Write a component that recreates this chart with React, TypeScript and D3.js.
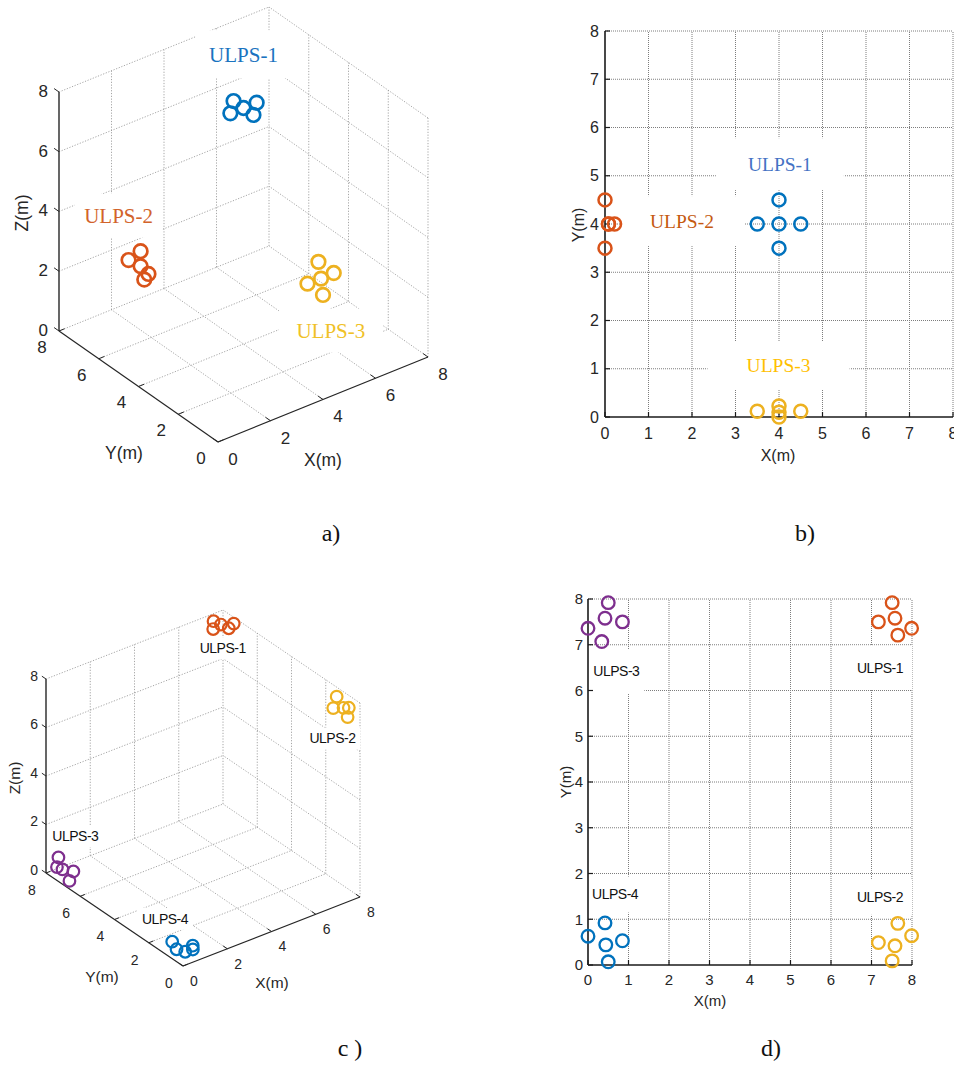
import React from "react";
import * as d3 from "d3";

// ---- shared ticks ----
const ticks3d = [0, 2, 4, 6, 8];
const ticks2d = [0, 1, 2, 3, 4, 5, 6, 7, 8];
const names3 = ["ULPS-1", "ULPS-2", "ULPS-3"];
const names4 = ["ULPS-1", "ULPS-2", "ULPS-3", "ULPS-4"];

// ---- a) / b): three ULPS (x, y, z in m) ----
const a1X = [4, 3.5, 4, 4.5, 4];
const a1Y = [4.5, 4, 4, 4, 3.5];
const a1Z = [7.9, 7.9, 7.9, 7.9, 7.9];
const a2X = [0, 0, 0.08, 0.22, 0.08];
const a2Y = [4.5, 3.5, 4, 4, 4];
const a2Z = [4, 4, 4.5, 3.5, 4];
const a3X = [3.5, 4.5, 4, 4, 4];
const a3Y = [0.12, 0.12, 0.23, 0, 0.1];
const a3Z = [4, 4, 4.5, 3.5, 4];

// ---- c) / d): four ULPS ----
const c1X = [7.51, 7.17, 7.58, 7.65, 7.99];
const c1Y = [7.92, 7.5, 7.58, 7.21, 7.36];
const c1Z = [7.75, 7.75, 7.75, 7.75, 7.75];
const c2X = [7.65, 7.99, 7.17, 7.58, 7.51];
const c2Y = [0.91, 0.64, 0.49, 0.42, 0.09];
const c2Z = [7.95, 7.5, 7.85, 7.75, 7.55];
const c3X = [0.5, 0.42, 0.85, 0, 0.34];
const c3Y = [7.92, 7.58, 7.5, 7.36, 7.07];
const c3Z = [0.5, 0.2, 0, 0.55, 0];
const c4X = [0.42, 0, 0.85, 0.44, 0.5];
const c4Y = [0.92, 0.63, 0.53, 0.44, 0.07];
const c4Z = [0.1, 0.7, 0.28, 0.22, 0.47];

const BLUE = "#0072BD";
const ORANGE = "#D95319";
const YELLOW = "#EDB120";
const PURPLE = "#7E2F8E";

const SANS = "'Liberation Sans', Arial, Helvetica, sans-serif";
const SERIF = "'Liberation Serif', 'Times New Roman', serif";

type Series = { xs: number[]; ys: number[]; zs?: number[]; color: string };
type Label = { text: string; at: number[]; color: string; hw: number; hh: number };
type Pt = [number, number];

function Plot3D(p: {
  origin: Pt;
  xEnd: Pt;
  yEnd: Pt;
  zLen: number;
  series: Series[];
  labels: Label[];
  labelFont: string;
  labelSize: number;
  labelSpacing?: number;
  tickSize: number;
  axisSize: number;
  r: number;
  sw: number;
  tickLen: number;
  xTickOff: Pt;
  yTickOff: Pt;
  zTickOff: Pt;
  xLabelAt: Pt;
  yLabelAt: Pt;
  zLabelAt: Pt;
}) {
  const dom = [0, 8];
  const xPx = d3.scaleLinear().domain(dom).range([0, p.xEnd[0] - p.origin[0]]);
  const xPy = d3.scaleLinear().domain(dom).range([0, p.xEnd[1] - p.origin[1]]);
  const yPx = d3.scaleLinear().domain(dom).range([0, p.yEnd[0] - p.origin[0]]);
  const yPy = d3.scaleLinear().domain(dom).range([0, p.yEnd[1] - p.origin[1]]);
  const zPy = d3.scaleLinear().domain(dom).range([0, -p.zLen]);
  const P = (x: number, y: number, z: number): Pt => [
    p.origin[0] + xPx(x) + yPx(y),
    p.origin[1] + xPy(x) + yPy(y) + zPy(z),
  ];
  const line = d3.line();
  const seg = (a: number[], b: number[]) =>
    line([P(a[0], a[1], a[2]), P(b[0], b[1], b[2])]) ?? "";

  // unit directions in pixel space
  const norm = (v: Pt): Pt => {
    const l = Math.hypot(v[0], v[1]);
    return [v[0] / l, v[1] / l];
  };
  const ux = norm([P(1, 0, 0)[0] - P(0, 0, 0)[0], P(1, 0, 0)[1] - P(0, 0, 0)[1]]);
  const uy = norm([P(0, 1, 0)[0] - P(0, 0, 0)[0], P(0, 1, 0)[1] - P(0, 0, 0)[1]]);

  const grid: string[] = [];
  ticks3d.forEach((t) => {
    if (t > 0) {
      grid.push(seg([t, 0, 0], [t, 8, 0]));
      grid.push(seg([0, t, 0], [8, t, 0]));
      grid.push(seg([t, 8, 0], [t, 8, 8]));
      grid.push(seg([0, 8, t], [8, 8, t]));
      grid.push(seg([8, 0, t], [8, 8, t]));
    }
    if (t < 8) grid.push(seg([8, t, 0], [8, t, 8]));
  });

  return (
    <g>
      {grid.map((d, i) => (
        <path key={i} d={d} stroke="#8f8f8f" strokeWidth={0.8} strokeDasharray="1.2 1.6" fill="none" />
      ))}
      {/* axes */}
      <path d={seg([0, 0, 0], [8, 0, 0])} stroke="#262626" strokeWidth={1.2} fill="none" />
      <path d={seg([0, 0, 0], [0, 8, 0])} stroke="#262626" strokeWidth={1.2} fill="none" />
      <path d={seg([0, 8, 0], [0, 8, 8])} stroke="#262626" strokeWidth={1.4} fill="none" />
      {ticks3d.map((t) => {
        const a = P(t, 0, 0);
        const b = P(0, t, 0);
        const c = P(0, 8, t);
        return (
          <g key={t} stroke="#262626" strokeWidth={1}>
            <line x1={a[0]} y1={a[1]} x2={a[0] + uy[0] * p.tickLen} y2={a[1] + uy[1] * p.tickLen} />
            <line x1={b[0]} y1={b[1]} x2={b[0] + ux[0] * p.tickLen} y2={b[1] + ux[1] * p.tickLen} />
            <line x1={c[0]} y1={c[1]} x2={c[0] + uy[0] * p.tickLen} y2={c[1] + uy[1] * p.tickLen} />
          </g>
        );
      })}
      <g fontFamily={SANS} fontSize={p.tickSize} fill="#262626">
        {ticks3d.map((t) => {
          const a = P(t, 0, 0);
          const b = P(0, t, 0);
          const c = P(0, 8, t);
          return (
            <g key={t}>
              <text x={a[0] + p.xTickOff[0]} y={a[1] + p.xTickOff[1]} textAnchor="middle" dy="0.35em">
                {t}
              </text>
              <text x={b[0] + p.yTickOff[0]} y={b[1] + p.yTickOff[1]} textAnchor="middle" dy="0.35em">
                {t}
              </text>
              <text x={c[0] + p.zTickOff[0]} y={c[1] + p.zTickOff[1]} textAnchor="end" dy="0.35em">
                {t}
              </text>
            </g>
          );
        })}
      </g>
      <g fontFamily={SANS} fontSize={p.axisSize} fill="#262626" textAnchor="middle">
        <text x={p.xLabelAt[0]} y={p.xLabelAt[1]} dy="0.35em">X(m)</text>
        <text x={p.yLabelAt[0]} y={p.yLabelAt[1]} dy="0.35em">Y(m)</text>
        <text transform={`translate(${p.zLabelAt[0]},${p.zLabelAt[1]}) rotate(-90)`} dy="0.35em">
          Z(m)
        </text>
      </g>
      {p.labels.map((l) => {
        const c = P(l.at[0], l.at[1], l.at[2]);
        return (
          <g key={l.text}>
            <rect x={c[0] - l.hw} y={c[1] - l.hh} width={l.hw * 2} height={l.hh * 2} fill="#fff" />
            <text
              x={c[0]}
              y={c[1]}
              dy="0.35em"
              textAnchor="middle"
              fontFamily={p.labelFont}
              fontSize={p.labelSize}
              letterSpacing={p.labelSpacing ?? 0}
              fill={l.color}
            >
              {l.text}
            </text>
          </g>
        );
      })}
      {p.series.map((s, si) =>
        s.xs.map((x, i) => {
          const c = P(x, s.ys[i], s.zs![i]);
          return (
            <circle key={`${si}-${i}`} cx={c[0]} cy={c[1]} r={p.r} fill="none" stroke={s.color} strokeWidth={p.sw} />
          );
        })
      )}
    </g>
  );
}

function Plot2D(p: {
  x0: number;
  x1: number;
  y0: number;
  y1: number;
  series: Series[];
  labels: Label[];
  labelFont: string;
  labelSize: number;
  labelSpacing?: number;
  tickSize: number;
  axisSize: number;
  r: number;
  sw: number;
  yTickRight: number;
  xTickY: number;
  xLabelAt: Pt;
  yLabelAt: Pt;
}) {
  const x = d3.scaleLinear().domain([0, 8]).range([p.x0, p.x1]);
  const y = d3.scaleLinear().domain([0, 8]).range([p.y0, p.y1]);
  const tl = 5;
  return (
    <g>
      {ticks2d
        .filter((t) => t > 0)
        .map((t) => (
          <g key={t} stroke="#7d7d7d" strokeWidth={1} strokeDasharray="1 1">
            <line x1={x(t)} x2={x(t)} y1={y(0)} y2={y(8)} />
            <line x1={x(0)} x2={x(8)} y1={y(t)} y2={y(t)} />
          </g>
        ))}
      {p.labels.map((l) => (
        <rect
          key={l.text}
          x={x(l.at[0]) - l.hw}
          y={y(l.at[1]) - l.hh}
          width={l.hw * 2}
          height={l.hh * 2}
          fill="#fff"
        />
      ))}
      <g stroke="#1a1a1a" strokeWidth={1.6}>
        <line x1={x(0)} x2={x(0)} y1={y(0)} y2={y(8)} />
        <line x1={x(0)} x2={x(8)} y1={y(0)} y2={y(0)} />
      </g>
      <g stroke="#1a1a1a" strokeWidth={1.2}>
        {ticks2d.map((t) => (
          <g key={t}>
            <line x1={x(t)} x2={x(t)} y1={y(0)} y2={y(0) - tl} />
            <line x1={x(0)} x2={x(0) + tl} y1={y(t)} y2={y(t)} />
          </g>
        ))}
      </g>
      <g fontFamily={SANS} fontSize={p.tickSize} fill="#262626">
        {ticks2d.map((t) => (
          <g key={t}>
            <text x={x(t)} y={p.xTickY} textAnchor="middle" dy="0.35em">
              {t}
            </text>
            <text x={p.yTickRight} y={y(t)} textAnchor="end" dy="0.35em">
              {t}
            </text>
          </g>
        ))}
      </g>
      <g fontFamily={SANS} fontSize={p.axisSize} fill="#262626" textAnchor="middle">
        <text x={p.xLabelAt[0]} y={p.xLabelAt[1]} dy="0.35em">X(m)</text>
        <text transform={`translate(${p.yLabelAt[0]},${p.yLabelAt[1]}) rotate(-90)`} dy="0.35em">
          Y(m)
        </text>
      </g>
      {p.labels.map((l) => (
        <text
          key={l.text}
          x={x(l.at[0])}
          y={y(l.at[1])}
          dy="0.35em"
          textAnchor="middle"
          fontFamily={p.labelFont}
          fontSize={p.labelSize}
          letterSpacing={p.labelSpacing ?? 0}
          fill={l.color}
        >
          {l.text}
        </text>
      ))}
      {p.series.map((s, si) =>
        s.xs.map((v, i) => (
          <circle
            key={`${si}-${i}`}
            cx={x(v)}
            cy={y(s.ys[i])}
            r={p.r}
            fill="none"
            stroke={s.color}
            strokeWidth={p.sw}
          />
        ))
      )}
    </g>
  );
}

export default function App() {
  const seriesA: Series[] = [
    { xs: a1X, ys: a1Y, zs: a1Z, color: BLUE },
    { xs: a2X, ys: a2Y, zs: a2Z, color: ORANGE },
    { xs: a3X, ys: a3Y, zs: a3Z, color: YELLOW },
  ];
  const seriesC: Series[] = [
    { xs: c1X, ys: c1Y, zs: c1Z, color: ORANGE },
    { xs: c2X, ys: c2Y, zs: c2Z, color: YELLOW },
    { xs: c3X, ys: c3Y, zs: c3Z, color: PURPLE },
    { xs: c4X, ys: c4Y, zs: c4Z, color: BLUE },
  ];

  return (
    <div style={{ position: "absolute", left: 0, top: 0, background: "#fff" }}>
      <svg width={954} height={1065} style={{ display: "block", background: "#fff" }}>
        {/* a) */}
        <Plot3D
          origin={[218, 442]}
          xEnd={[428, 357]}
          yEnd={[59, 331]}
          zLen={239}
          series={seriesA}
          labels={[
            { text: names3[0], at: [4, 4, 9.7], color: "#1a73c0", hw: 48, hh: 24 },
            { text: names3[1], at: [0, 5, 5.25], color: "#d2632b", hw: 44, hh: 22 },
            { text: names3[2], at: [4.3, 0, 2.2], color: "#f0c127", hw: 52, hh: 22 },
          ]}
          labelFont={SERIF}
          labelSize={21}
          tickSize={17}
          axisSize={17.5}
          r={6.8}
          sw={2.7}
          tickLen={6}
          xTickOff={[15, 17]}
          yTickOff={[-17, 16]}
          zTickOff={[-11, -1]}
          xLabelAt={[323, 460]}
          yLabelAt={[124, 453]}
          zLabelAt={[22, 213]}
        />
        {/* b) */}
        <Plot2D
          x0={605}
          x1={953}
          y0={417}
          y1={31}
          series={[
            { xs: a1X, ys: a1Y, color: BLUE },
            { xs: a2X, ys: a2Y, color: ORANGE },
            { xs: a3X, ys: a3Y, color: YELLOW },
          ]}
          labels={[
            { text: names3[0], at: [4.02, 5.24], color: "#4472c4", hw: 64, hh: 26 },
            { text: names3[1], at: [1.77, 4.06], color: "#c55a11", hw: 62, hh: 25 },
            { text: names3[2], at: [3.99, 1.07], color: "#ffc000", hw: 71, hh: 24 },
          ]}
          labelFont={SERIF}
          labelSize={19.5}
          tickSize={16}
          axisSize={16}
          r={6.5}
          sw={2.5}
          yTickRight={599}
          xTickY={433}
          xLabelAt={[778, 455]}
          yLabelAt={[578, 225]}
        />
        {/* c) */}
        <Plot3D
          origin={[183, 966]}
          xEnd={[360, 897]}
          yEnd={[46, 873]}
          zLen={194}
          series={seriesC}
          labels={[
            { text: names4[0], at: [7.6, 7.5, 6.8], color: "#111", hw: 28, hh: 11 },
            { text: names4[1], at: [7.14, 0.5, 6.6], color: "#111", hw: 28, hh: 11 },
            { text: names4[2], at: [0.94, 7.5, 1.43], color: "#111", hw: 28, hh: 11 },
            { text: names4[3], at: [0, 1.05, 1.44], color: "#111", hw: 28, hh: 11 },
          ]}
          labelFont={SANS}
          labelSize={14}
          labelSpacing={-0.5}
          tickSize={14}
          axisSize={15.5}
          r={5.8}
          sw={2.2}
          tickLen={5}
          xTickOff={[11, 15]}
          yTickOff={[-14, 17]}
          zTickOff={[-8, -3]}
          xLabelAt={[272, 983]}
          yLabelAt={[102, 977]}
          zLabelAt={[15, 778]}
        />
        {/* d) */}
        <Plot2D
          x0={588}
          x1={912}
          y0={965}
          y1={599}
          series={[
            { xs: c1X, ys: c1Y, color: ORANGE },
            { xs: c2X, ys: c2Y, color: YELLOW },
            { xs: c3X, ys: c3Y, color: PURPLE },
            { xs: c4X, ys: c4Y, color: BLUE },
          ]}
          labels={[
            { text: names4[0], at: [7.21, 6.5], color: "#111", hw: 32, hh: 22 },
            { text: names4[1], at: [7.21, 1.49], color: "#111", hw: 32, hh: 18 },
            { text: names4[2], at: [0.7, 6.42], color: "#111", hw: 28, hh: 22 },
            { text: names4[3], at: [0.67, 1.54], color: "#111", hw: 28, hh: 18 },
          ]}
          labelFont={SANS}
          labelSize={14}
          labelSpacing={-0.5}
          tickSize={15}
          axisSize={15}
          r={6.3}
          sw={2.3}
          yTickRight={583}
          xTickY={980}
          xLabelAt={[710, 1001]}
          yLabelAt={[566, 782]}
        />
        {/* captions */}
        <g fontFamily={SERIF} fontSize={24} fill="#111" textAnchor="middle">
          <text x={331} y={533} dy="0.35em">a)</text>
          <text x={805} y={533} dy="0.35em">b)</text>
          <text x={350} y={1048} dy="0.35em">c )</text>
          <text x={771} y={1048} dy="0.35em">d)</text>
        </g>
      </svg>
    </div>
  );
}
